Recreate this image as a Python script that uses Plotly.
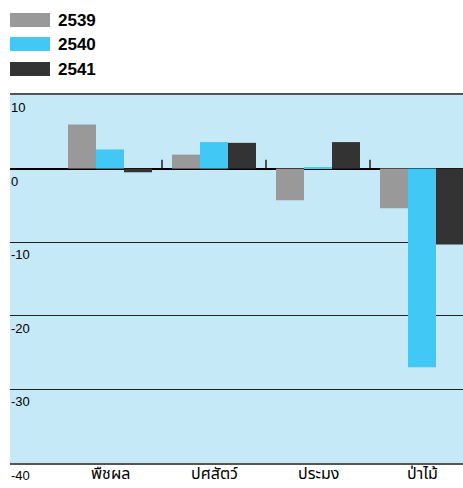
import plotly.graph_objects as go

categories = ["พืชผล", "ปศสัตว์", "ประมง", "ป่าไม้"]
series_names = ["2539", "2540", "2541"]
values_2539 = [6.0, 1.9, -4.3, -5.4]
values_2540 = [2.6, 3.6, 0.2, -27.0]
values_2541 = [-0.5, 3.5, 3.6, -10.3]
y_tick_values = [10, 0, -10, -20, -30, -40]
y_tick_labels = ["10", "0", "-10", "-20", "-30", "-40"]

colors = ["#999999", "#41C8F4", "#333333"]
series = [values_2539, values_2540, values_2541]

fig = go.Figure()
for name, vals, col in zip(series_names, series, colors):
    fig.add_trace(go.Bar(x=list(range(len(categories))), y=vals, name=name,
                         marker=dict(color=col, line=dict(width=0)),
                         showlegend=False))

# plot area in pixels: x 10..463, y 95..463
PW, PH = 453, 368
def px_to_paper_x(px):
    return (px - 10) / PW
def px_to_paper_y(py):
    return (463 - py) / PH

shapes = []
# category boundary ticks on the zero line
for i in range(len(categories) - 1):
    shapes.append(dict(type="line", xref="x", yref="y", x0=i + 0.5, x1=i + 0.5,
                       y0=0, y1=1.2, line=dict(color="#222222", width=1.5), layer="above"))

# legend swatches
row_y = [20, 44, 69]
for name, col, yc in zip(series_names, colors, row_y):
    shapes.append(dict(type="rect", xref="paper", yref="paper",
                       x0=px_to_paper_x(10), x1=px_to_paper_x(50),
                       y0=px_to_paper_y(yc + 7), y1=px_to_paper_y(yc - 7),
                       line=dict(width=0), fillcolor=col))

annotations = []
for name, yc in zip(series_names, row_y):
    annotations.append(dict(xref="paper", yref="paper", x=px_to_paper_x(56),
                            y=px_to_paper_y(yc), xanchor="left", yanchor="middle",
                            text="<b>" + name + "</b>", showarrow=False,
                            font=dict(family="Liberation Sans, Arial", size=17, color="#000000")))
for v, lab in zip(y_tick_values, y_tick_labels):
    annotations.append(dict(xref="paper", yref="y", x=0, y=v, xanchor="left",
                            yanchor="top", text=lab, showarrow=False, yshift=-3, xshift=-1,
                            font=dict(family="Liberation Sans, Arial", size=13, color="#000000")))
# category labels under the plot
for i, cat in enumerate(categories):
    annotations.append(dict(xref="x", yref="paper", x=i, y=px_to_paper_y(487),
                            xanchor="center", yanchor="bottom", text=cat, showarrow=False,
                            borderpad=0,
                            font=dict(family="Noto Sans Thai, Noto Sans, DejaVu Sans", size=16, color="#000000")))

fig.update_layout(
    width=463, height=488,
    margin=dict(l=10, r=0, t=95, b=25, autoexpand=False),
    paper_bgcolor="white",
    plot_bgcolor="#C6E9F8",
    barmode="group",
    bargap=20 / 104,
    bargroupgap=0,
    shapes=shapes,
    annotations=annotations,
    xaxis=dict(range=[-100 / 104, -100 / 104 + PW / 104], automargin=False,
               tickmode="array", tickvals=list(range(len(categories))), showticklabels=False,
               showgrid=False, zeroline=False, ticks="",
               showline=True, mirror=True, linecolor="#555555", linewidth=1.5),
    yaxis=dict(range=[-40, 10], tickvals=y_tick_values, showticklabels=False, automargin=False,
               showgrid=True, gridcolor="#222222", gridwidth=1,
               zeroline=True, zerolinecolor="#000000", zerolinewidth=1.5,
               showline=False, ticks=""),
)

fig.write_html("out.html", config={"displayModeBar": False},
               post_script="document.body.style.margin='0';document.body.style.padding='0';")
